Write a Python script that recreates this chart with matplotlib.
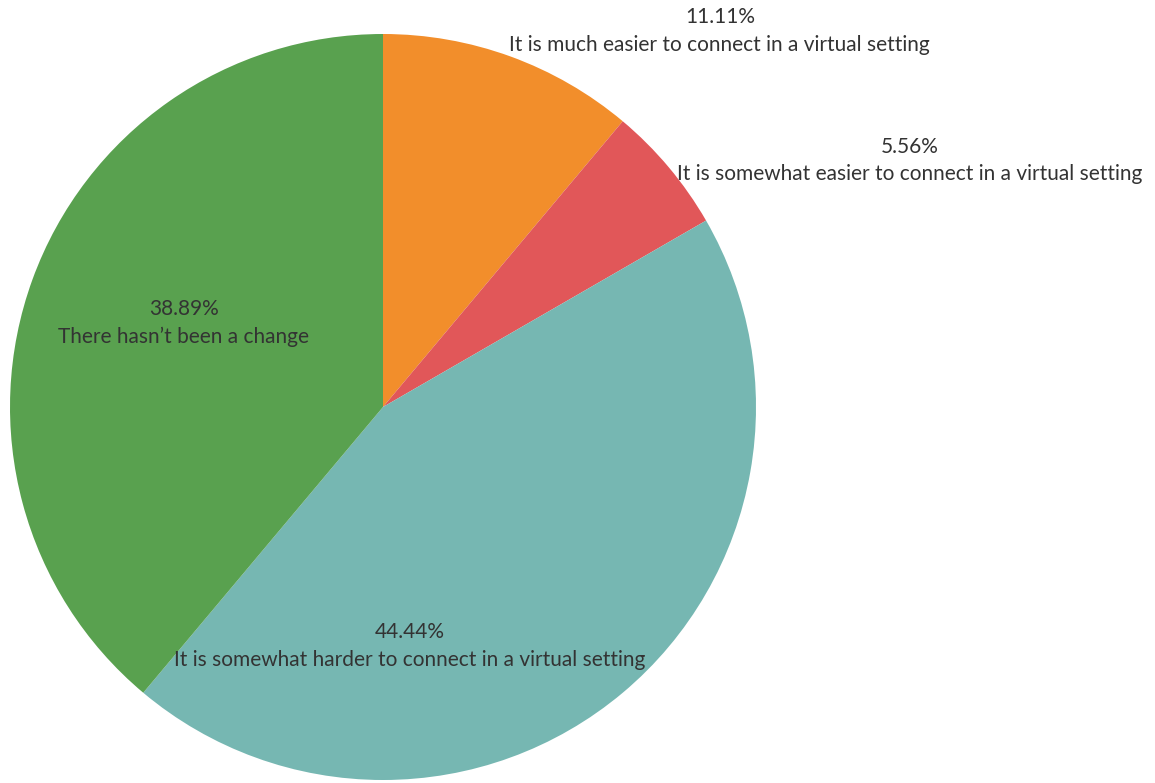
import matplotlib.pyplot as plt

# slice data (clockwise from 12 o'clock)
pcts = [11.11, 5.56, 44.44, 38.89]
names = ['It is much easier to connect in a virtual setting',
         'It is somewhat easier to connect in a virtual setting',
         'It is somewhat harder to connect in a virtual setting',
         "There hasn\u2019t been a change"]
colors = ['#F28E2B', '#E15759', '#76B7B2', '#59A14F']

# label anchor positions in pie units (radius = 1)
label_xy = [(0.903, 1.008), (1.413, 0.660), (0.072, -0.641), (-0.534, 0.225)]

plt.rcParams['font.family'] = ['Lato', 'DejaVu Sans']

fig = plt.figure(figsize=(11.55, 7.83), dpi=100)
ax = fig.add_axes([10 / 1155, 3 / 783, 746 / 1155, 746 / 783])
ax.pie(pcts, colors=colors, startangle=90, counterclock=False, radius=1,
       wedgeprops=dict(linewidth=0))
ax.set_xlim(-1, 1)
ax.set_ylim(-1, 1)
ax.set_aspect('equal')
ax.set_axis_off()

for p, n, (x, y) in zip(pcts, names, label_xy):
    ax.text(x, y, f'{p:.2f}%\n{n}', ha='center', va='center', fontsize=15,
            color='#333333', linespacing=1.45, clip_on=False)

fig.savefig('out.png', dpi=100)
